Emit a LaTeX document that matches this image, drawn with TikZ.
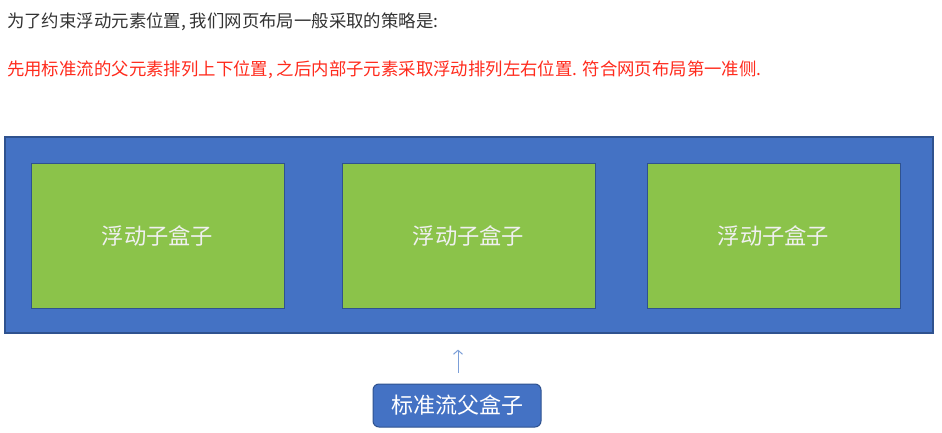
\documentclass[tikz,border=0pt]{standalone}
\usepackage{fontspec}
\setmainfont{Noto Sans CJK SC}
\usetikzlibrary{arrows.meta}
\definecolor{boxblue}{HTML}{4472C4}
\definecolor{edgeblue}{HTML}{2F528F}
\definecolor{boxgreen}{HTML}{8BC34A}
\definecolor{arrowblue}{HTML}{7C9FD8}
\definecolor{txtgray}{HTML}{333333}
\definecolor{txtred}{HTML}{FF2A1C}
\begin{document}
\begin{tikzpicture}[x=1pt,y=-1pt,
  outerbox/.style={draw=edgeblue,fill=boxblue,line width=1.2pt,minimum width=928pt,minimum height=196pt,inner sep=0pt},
  floatbox/.style={draw=edgeblue,fill=boxgreen,line width=1pt,minimum width=253pt,minimum height=145pt,inner sep=0pt,text=white!94!black,font=\fontsize{22.3}{26}\selectfont},
  parentbox/.style={draw=edgeblue,fill=boxblue,line width=1pt,rounded corners=6pt,minimum width=168pt,minimum height=43pt,inner sep=0pt,text=white,font=\fontsize{22}{26}\selectfont},
  linetext/.style={anchor=west,inner sep=0pt,font=\fontsize{17.4}{21}\selectfont}
]
\useasboundingbox (0,0) rectangle (942,433);
\node[linetext,text=txtgray] (t1) at (7,22) {为了约束浮动元素位置, 我们网页布局一般采取的策略是:};
\node[linetext,text=txtred] (t2) at (7,70) {先用标准流的父元素排列上下位置, 之后内部子元素采取浮动排列左右位置. 符合网页布局第一准侧.};
\node[outerbox] (outer) at (469,235) {};
\node[floatbox] (f1) at (157.5,235.5) {浮动子盒子};
\node[floatbox] (f2) at (468.5,235.5) {浮动子盒子};
\node[floatbox] (f3) at (773.5,235.5) {浮动子盒子};
\node[parentbox] (p) at (457,405.5) {标准流父盒子};
\draw[arrowblue,line width=1pt,-{Straight Barb[length=4pt,width=9pt]},shorten <=11pt,shorten >=16pt] ([xshift=1pt]p.north) -- ([xshift=1pt]p.north |- outer.south);
\end{tikzpicture}
\end{document}
